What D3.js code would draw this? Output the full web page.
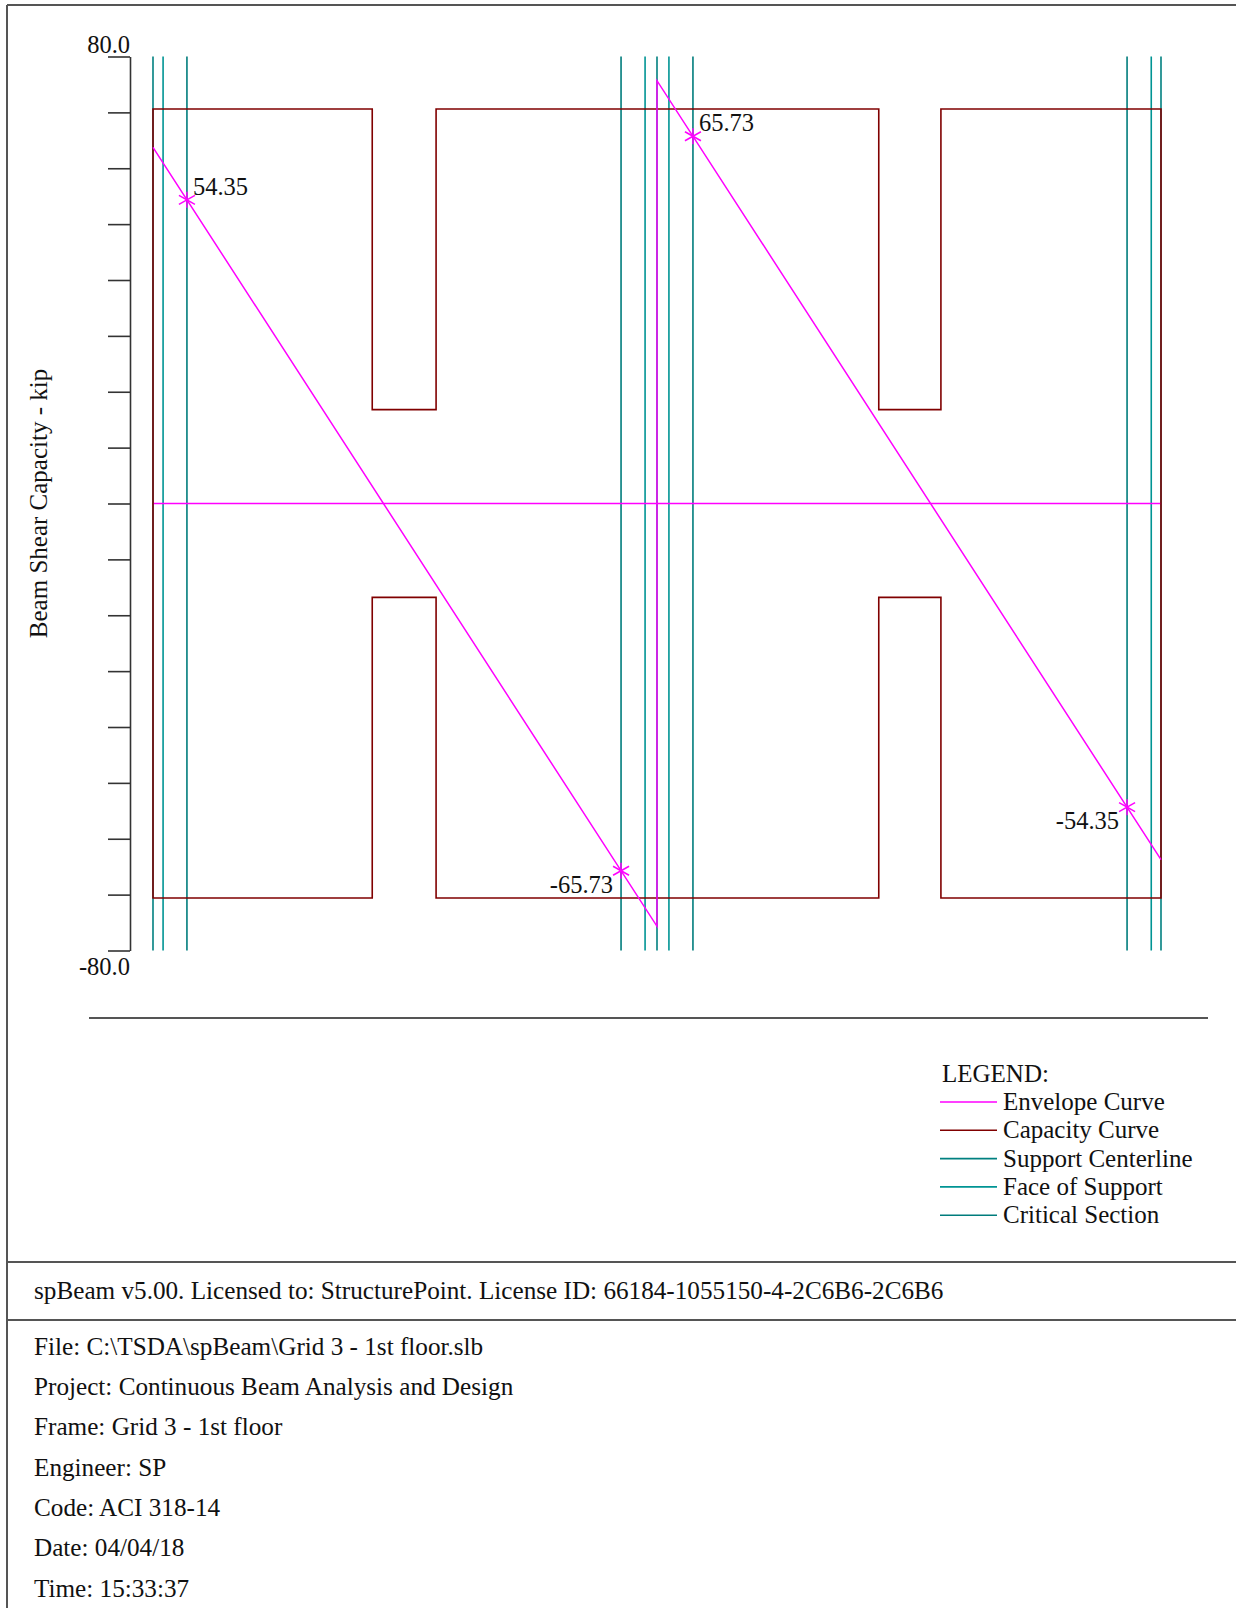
<!DOCTYPE html>
<html>
<head>
<meta charset="utf-8">
<script src="https://cdn.jsdelivr.net/npm/d3@7"></script>
<style>
  body { margin: 0; background: #fff; }
  svg text { font-family: "Liberation Serif", "Times New Roman", serif; fill: #111; }
</style>
</head>
<body>
<div id="chart"></div>
<script>
// beam stations in ft, shear in kip
const spanEnds = [0, 60];
const centerlines = [0, 30, 60];
const faces = [0.6, 29.29, 30.71, 59.42];
const criticals = [2.02, 27.86, 32.14, 57.98];

const envX = [0, 30, 30, 60];
const envV = [63.74, -75.67, 75.67, -63.74];

const capX = [0, 13.05, 13.05, 16.85, 16.85, 43.2, 43.2, 46.9, 46.9, 60, 60, 46.9, 46.9, 43.2, 43.2, 16.85, 16.85, 13.05, 13.05, 0];
const capV = [70.6, 70.6, 16.8, 16.8, 70.6, 70.6, 16.8, 16.8, 70.6, 70.6, -70.6, -70.6, -16.8, -16.8, -70.6, -70.6, -16.8, -16.8, -70.6, -70.6];

const markX = [2.02, 27.86, 32.14, 57.98];
const markV = [54.35, -65.73, 65.73, -54.35];

const yTicks = d3.range(-80, 81, 10);
const yEndLabels = ["80.0", "-80.0"];

const legendNames = ["Envelope Curve", "Capacity Curve", "Support Centerline", "Face of Support", "Critical Section"];
const legendColors = ["#ff00ff", "#800000", "#008080", "#009494", "#007c7c"];

const licenseLine = "spBeam v5.00. Licensed to: StructurePoint. License ID: 66184-1055150-4-2C6B6-2C6B6";
const infoLines = [
  "File: C:\\TSDA\\spBeam\\Grid 3 - 1st floor.slb",
  "Project: Continuous Beam Analysis and Design",
  "Frame: Grid 3 - 1st floor",
  "Engineer: SP",
  "Code: ACI 318-14",
  "Date: 04/04/18",
  "Time: 15:33:37"
];

const W = 1236, H = 1608;
const svg = d3.select("#chart").append("svg")
  .attr("width", W).attr("height", H);

const x = d3.scaleLinear().domain(spanEnds).range([153, 1161]);
const y = d3.scaleLinear().domain([-80, 80]).range([950.5, 56.5]);

// page frame
const frame = svg.append("g").attr("stroke", "#555").attr("stroke-width", 2).attr("fill", "none");
frame.append("line").attr("x1", 7).attr("x2", 7).attr("y1", 5).attr("y2", H);
frame.append("line").attr("x1", 7).attr("x2", W).attr("y1", 5).attr("y2", 5);
frame.append("line").attr("x1", 89).attr("x2", 1208).attr("y1", 1018).attr("y2", 1018);
frame.append("line").attr("x1", 7).attr("x2", W).attr("y1", 1262).attr("y2", 1262);
frame.append("line").attr("x1", 7).attr("x2", W).attr("y1", 1320).attr("y2", 1320);

// y axis
const yAxis = svg.append("g")
  .attr("transform", "translate(130,0)")
  .call(d3.axisLeft(y).tickValues(yTicks).tickSize(22).tickSizeOuter(0).tickFormat(""));
yAxis.selectAll("path, line").attr("stroke", "#333").attr("stroke-width", 1.6);

svg.append("text").attr("x", 130).attr("y", y(80) - 4)
  .attr("text-anchor", "end").attr("font-size", 24.5).text(yEndLabels[0]);
svg.append("text").attr("x", 130).attr("y", y(-80) + 24)
  .attr("text-anchor", "end").attr("font-size", 24.5).text(yEndLabels[1]);

svg.append("text")
  .attr("transform", `translate(47,${y(0)}) rotate(-90)`)
  .attr("text-anchor", "middle").attr("font-size", 25)
  .text("Beam Shear Capacity - kip");

// support lines
const vline = (vals, color) => {
  svg.append("g").selectAll("line").data(vals).enter().append("line")
    .attr("x1", d => x(d)).attr("x2", d => x(d))
    .attr("y1", y(80)).attr("y2", y(-80))
    .attr("stroke", color).attr("stroke-width", 1.6);
};
vline(centerlines, legendColors[2]);
vline(faces, legendColors[3]);
vline(criticals, legendColors[4]);

const line = d3.line().x(d => x(d[0])).y(d => y(d[1]));

// envelope zero line
svg.append("path")
  .attr("d", line(d3.zip(spanEnds, [0, 0])))
  .attr("fill", "none").attr("stroke", legendColors[0]).attr("stroke-width", 1.5);

// capacity curve
svg.append("path")
  .attr("d", line(d3.zip(capX, capV)) + "Z")
  .attr("fill", "none").attr("stroke", legendColors[1]).attr("stroke-width", 1.6);

// envelope
svg.append("path")
  .attr("d", line(d3.zip(envX, envV)))
  .attr("fill", "none").attr("stroke", legendColors[0]).attr("stroke-width", 1.5);

// critical section markers
const marks = svg.append("g").selectAll("g").data(d3.zip(markX, markV)).enter().append("g")
  .attr("transform", d => `translate(${x(d[0])},${y(d[1])})`);
[[0, -8, 0, 8], [-8, -4.5, 8, 4.5], [-8, 4.5, 8, -4.5]].forEach(s => {
  marks.append("line")
    .attr("x1", s[0]).attr("y1", s[1]).attr("x2", s[2]).attr("y2", s[3])
    .attr("stroke", legendColors[0]).attr("stroke-width", 1.5);
});
marks.append("text")
  .attr("font-size", 24.5)
  .attr("text-anchor", d => d[1] > 0 ? "start" : "end")
  .attr("x", d => d[1] > 0 ? 6 : -8)
  .attr("y", d => d[1] > 0 ? -5 : 22)
  .text(d => d[1].toFixed(2));

// legend
const legend = svg.append("g").attr("transform", "translate(940,1082)");
legend.append("text").attr("x", 2).attr("y", 0).attr("font-size", 25).text("LEGEND:");
const rows = legend.selectAll("g.row").data(legendNames).enter().append("g")
  .attr("class", "row")
  .attr("transform", (d, i) => `translate(0,${20 + i * 28.3})`);
rows.append("line").attr("x1", 0).attr("x2", 57).attr("y1", 0).attr("y2", 0)
  .attr("stroke", (d, i) => legendColors[i]).attr("stroke-width", 1.6);
rows.append("text").attr("x", 63).attr("y", 8).attr("font-size", 25).text(d => d);

// footer
svg.append("text").attr("x", 34).attr("y", 1299).attr("font-size", 25.2).text(licenseLine);
svg.append("g").selectAll("text").data(infoLines).enter().append("text")
  .attr("x", 34).attr("y", (d, i) => 1354.5 + i * 40.35)
  .attr("font-size", 25.2).text(d => d);
</script>
</body>
</html>
